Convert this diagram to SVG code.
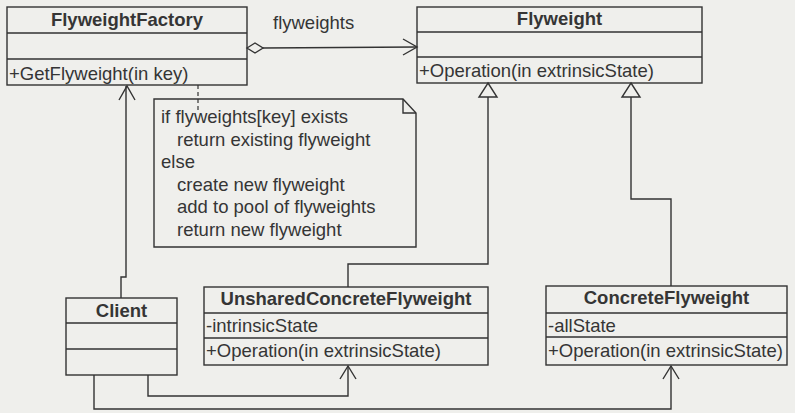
<svg xmlns="http://www.w3.org/2000/svg" width="795" height="413" viewBox="0 0 795 413">
<style>
  .bg{fill:#efefec}
  .box{fill:none;stroke:#333;stroke-width:1.4}
  .ln{fill:none;stroke:#333;stroke-width:1.4}
  .dash{fill:none;stroke:#333;stroke-width:1.2;stroke-dasharray:4 3}
  .tri{fill:#efefec;stroke:#333;stroke-width:1.4}
  text{font-family:"Liberation Sans",Arial,sans-serif;font-size:18.5px;fill:#353535}
  .t{font-weight:bold;text-anchor:middle}
</style>
<rect class="bg" x="0" y="0" width="795" height="413"/>

<g id="connectors">
  <!-- aggregation FlyweightFactory -> Flyweight -->
  <path class="tri" d="M247,48 L255,43 L263,48 L255,53 Z"/>
  <path class="ln" d="M263,48 L417,47"/>
  <path class="ln" d="M403,39 L417,47 L403,55"/>
  <text x="273" y="29">flyweights</text>
  <!-- note dashed -->
  <path class="dash" d="M198,85 V110"/>
  <!-- Client -> FlyweightFactory -->
  <path class="ln" d="M121,298 V277 H126 V86"/>
  <path class="ln" d="M119,100 L127,86 L135,100"/>
  <!-- Unshared -> Flyweight generalization -->
  <path class="ln" d="M348,287 V264 H488 V97"/>
  <path class="tri" d="M488,83 L497,97 L479,97 Z"/>
  <!-- Concrete -> Flyweight generalization -->
  <path class="ln" d="M671,286 V199 H631 V97"/>
  <path class="tri" d="M631,83 L640,97 L622,97 Z"/>
  <!-- Client -> Unshared -->
  <path class="ln" d="M148,375 V396 H348 V366"/>
  <path class="ln" d="M340,379 L348,366 L356,379"/>
  <!-- Client -> Concrete -->
  <path class="ln" d="M94,375 V409 H671 V366"/>
  <path class="ln" d="M663,379 L671,366 L679,379"/>
</g>

<g id="FlyweightFactory">
  <rect class="box" x="7" y="7" width="240" height="78"/>
  <path class="ln" d="M7,33 H247 M7,59 H247"/>
  <text class="t" x="127" y="26">FlyweightFactory</text>
  <text x="9" y="80">+GetFlyweight(in key)</text>
</g>

<g id="Flyweight">
  <rect class="box" x="417" y="7" width="285" height="76"/>
  <path class="ln" d="M417,32 H702 M417,57 H702"/>
  <text class="t" x="559.5" y="25">Flyweight</text>
  <text x="419" y="77">+Operation(in extrinsicState)</text>
</g>

<g id="Note">
  <path class="box" d="M154,99 H403 L416,113 V247 H154 Z"/>
  <path class="ln" d="M403,99 V113 H416"/>
  <text x="161" y="123">if flyweights[key] exists</text>
  <text x="177" y="146">return existing flyweight</text>
  <text x="161" y="168">else</text>
  <text x="177" y="191">create new flyweight</text>
  <text x="177" y="213">add to pool of flyweights</text>
  <text x="177" y="236">return new flyweight</text>
</g>

<g id="Client">
  <rect class="box" x="66" y="298" width="111" height="77"/>
  <path class="ln" d="M66,323 H177 M66,349 H177"/>
  <text class="t" x="121.5" y="317">Client</text>
</g>

<g id="UnsharedConcreteFlyweight">
  <rect class="box" x="204" y="287" width="284" height="78"/>
  <path class="ln" d="M204,313 H488 M204,338 H488"/>
  <text class="t" x="346" y="305">UnsharedConcreteFlyweight</text>
  <text x="206" y="332">-intrinsicState</text>
  <text x="206" y="357">+Operation(in extrinsicState)</text>
</g>

<g id="ConcreteFlyweight">
  <rect class="box" x="546" y="286" width="241" height="79"/>
  <path class="ln" d="M546,313 H787 M546,337 H787"/>
  <text class="t" x="666.5" y="304">ConcreteFlyweight</text>
  <text x="548" y="332">-allState</text>
  <text x="548" y="357">+Operation(in extrinsicState)</text>
</g>
</svg>
